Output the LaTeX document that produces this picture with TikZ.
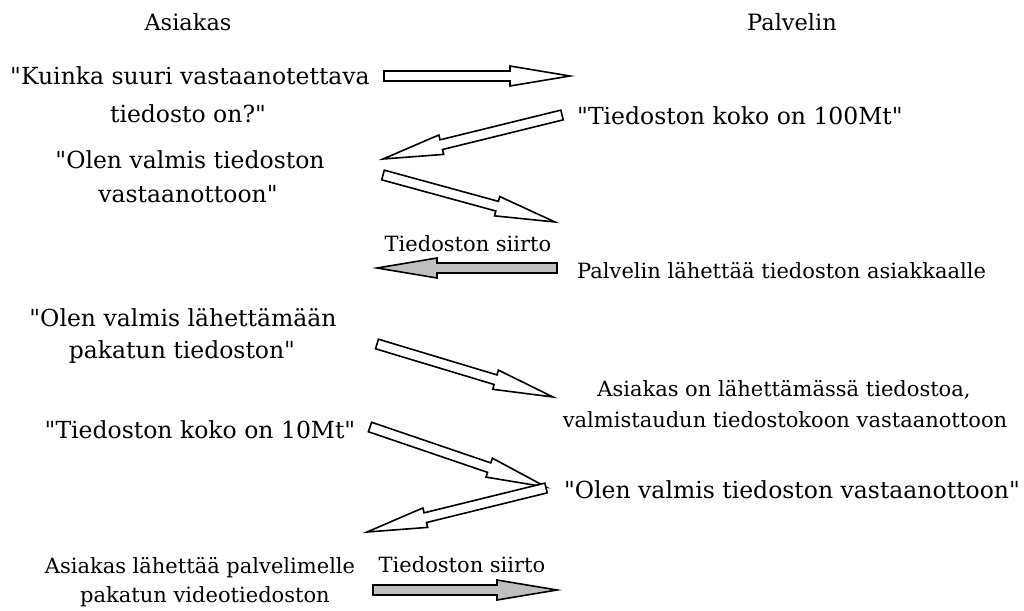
\documentclass[tikz,border=0pt]{standalone}
\usepackage{fontspec}
\setmainfont{DejaVu Serif}
\usetikzlibrary{calc}

\newcommand\dq{\textquotedbl}

\tikzset{
  head/.style={font=\fontsize{22.5}{30}\selectfont, inner sep=0pt, anchor=center},
  big/.style={font=\fontsize{23.5}{30}\selectfont, inner sep=0pt, anchor=center},
  small/.style={font=\fontsize{21}{26}\selectfont, inner sep=0pt, anchor=center},
  blockarrow/.style={draw=black, line width=1.6pt, line join=miter},
}

% Block arrow from coordinate #1 (tail) to coordinate #2 (tip), filled with #3
\newcommand\blockarrow[3]{%
  \coordinate (hb) at ($(#2)!60pt!(#1)$);
  \draw[blockarrow, fill=#3]
    ($(#1)!5pt!90:(#2)$) -- ($(hb)!5pt!90:(#2)$) -- ($(hb)!10pt!90:(#2)$)
    -- (#2) -- ($(hb)!10pt!-90:(#2)$) -- ($(hb)!5pt!-90:(#2)$)
    -- ($(#1)!5pt!-90:(#2)$) -- cycle;
}

\begin{document}
\begin{tikzpicture}[x=1pt, y=-1pt]
\useasboundingbox[fill=white] (0,0) rectangle (1024,610);

% column headings
\node[head] (cli) at (188,22) {Asiakas};
\node[head] (srv) at (792,22) {Palvelin};

% client side
\node[big] (k1) at (190,76) {\dq Kuinka suuri vastaanotettava};
\node[big] (k2) at (188,114) {tiedosto on?\dq};
\node[big] (o1) at (190,160) {\dq Olen valmis tiedoston};
\node[big] (o2) at (188,194) {vastaanottoon\dq};
\node[big] (l1) at (183,318) {\dq Olen valmis lähettämään};
\node[big] (l2) at (182,352) {pakatun tiedoston\dq};
\node[big] (t10) at (200,430) {\dq Tiedoston koko on 10Mt\dq};
\node[small] (as1) at (200,568) {Asiakas lähettää palvelimelle};
\node[small] (as2) at (205,597) {pakatun videotiedoston};

% server side
\node[big, anchor=west] (t100) at (577,116) {\dq Tiedoston koko on 100Mt\dq};
\node[small, anchor=west] (pl) at (577,271) {Palvelin lähettää tiedoston asiakkaalle};
\node[small] (a1) at (784,390) {Asiakas on lähettämässä tiedostoa,};
\node[small] (a2) at (785,420) {valmistaudun tiedostokoon vastaanottoon};
\node[big] (ov) at (792,490) {\dq Olen valmis tiedoston vastaanottoon\dq};

% transfer labels
\node[small] (ts1) at (468,244) {Tiedoston siirto};
\node[small] (ts2) at (462,565) {Tiedoston siirto};

% arrow end points
\coordinate (r1a) at (384,76);  \coordinate (r1b) at (570,76);
\coordinate (r2a) at (562,115); \coordinate (r2b) at (383,159);
\coordinate (r3a) at (383,175); \coordinate (r3b) at (555,222);
\coordinate (r4a) at (557,268); \coordinate (r4b) at (377,268);
\coordinate (r5a) at (377,344); \coordinate (r5b) at (553,397);
\coordinate (r6a) at (370,427); \coordinate (r6b) at (546,487);
\coordinate (r7a) at (546,488); \coordinate (r7b) at (367,532);
\coordinate (r8a) at (373,590); \coordinate (r8b) at (557,590);

\blockarrow{r1a}{r1b}{white}
\blockarrow{r2a}{r2b}{white}
\blockarrow{r3a}{r3b}{white}
\blockarrow{r4a}{r4b}{black!25}
\blockarrow{r5a}{r5b}{white}
\blockarrow{r6a}{r6b}{white}
\blockarrow{r7a}{r7b}{white}
\blockarrow{r8a}{r8b}{black!25}
\end{tikzpicture}
\end{document}
